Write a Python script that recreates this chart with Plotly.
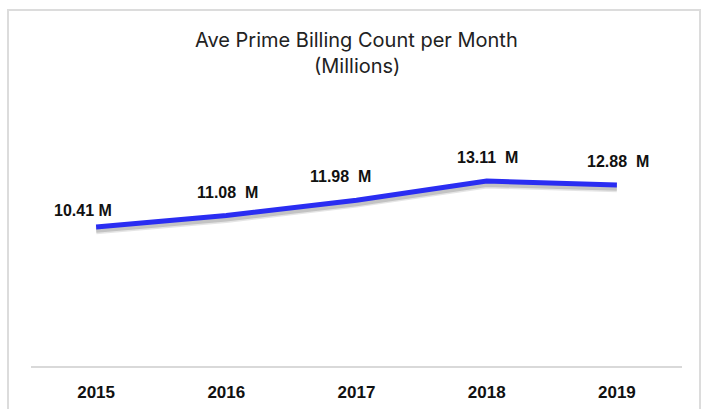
import plotly.graph_objects as go

years = ["2015", "2016", "2017", "2018", "2019"]
values = [10.41, 11.08, 11.98, 13.11, 12.88]
labels = ["10.41 M", "11.08  M", "11.98  M", "13.11  M", "12.88  M"]
label_shift_x = [-13, 1, -16, 1, 1]
label_shift_y = [16, 23, 24, 24, 23]

W, H = 709, 409
ml, mr, mt, mb = 31, 27, 100, 43
pw = W - ml - mr
ph = H - mt - mb
px_per_unit = 17.0

fig = go.Figure()
# soft shadow under the line
fig.add_trace(go.Scatter(x=years, y=[v - 0.2 for v in values], mode="lines",
                         line=dict(color="rgba(0,0,0,0.10)", width=8),
                         hoverinfo="skip", showlegend=False))
fig.add_trace(go.Scatter(x=years, y=[v - 0.2 for v in values], mode="lines",
                         line=dict(color="rgba(0,0,0,0.15)", width=5),
                         hoverinfo="skip", showlegend=False))
fig.add_trace(go.Scatter(x=years, y=values, mode="lines",
                         line=dict(color="#2a2df2", width=5),
                         showlegend=False))

for i, (v, t, dx, dy) in enumerate(zip(values, labels, label_shift_x, label_shift_y)):
    fig.add_annotation(x=i, y=v, xref="x", yref="y", text="<b>" + t + "</b>",
                       showarrow=False, yshift=dy, xshift=dx,
                       font=dict(family="Liberation Sans, Arial", size=16, color="#111"),
                       xanchor="center", yanchor="middle")

fig.add_annotation(xref="paper", yref="paper", x=0.5, y=1 + (mt - 40) / ph,
                   text="Ave Prime Billing Count per Month", showarrow=False,
                   font=dict(family="Inter", size=20, color="#222"), yanchor="middle")
fig.add_annotation(xref="paper", yref="paper", x=0.5, y=1 + (mt - 66) / ph,
                   text="(Millions)", showarrow=False,
                   font=dict(family="Inter", size=20, color="#222"), yanchor="middle")

fig.add_shape(type="rect", xref="paper", yref="paper",
              x0=(8 - ml) / pw, x1=(700 - ml) / pw,
              y0=-(H + 20 - mt - ph) / ph, y1=1 + (mt - 10) / ph,
              line=dict(color="#dcdcdc", width=2), fillcolor="rgba(0,0,0,0)", layer="below")

fig.update_layout(
    width=W, height=H, margin=dict(l=ml, r=mr, t=mt, b=mb, autoexpand=False),
    paper_bgcolor="white", plot_bgcolor="white",
    xaxis=dict(type="category", range=[-0.5, 4.5], showgrid=False, showline=True,
               linecolor="#d9d9d9", linewidth=2, ticks="", zeroline=False,
               tickprefix="<b>", ticksuffix="</b>",
               tickfont=dict(family="Liberation Sans, Arial", size=17, color="#111"),
               ticklabelstandoff=10, fixedrange=True),
    yaxis=dict(range=[2.23, 2.23 + ph / px_per_unit], visible=False, fixedrange=True),
)

fig.write_html("out.html", config={"displayModeBar": False},
               post_script="document.body.style.margin='0';")
